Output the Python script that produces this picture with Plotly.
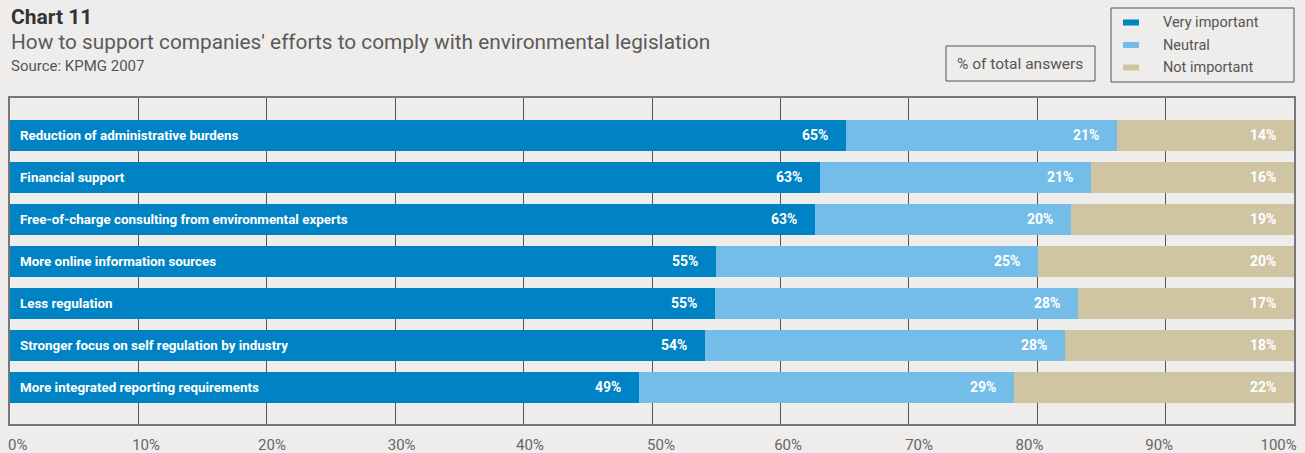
import plotly.graph_objects as go

# ---- data ----
categories = [
    "Reduction of administrative burdens",
    "Financial support",
    "Free-of-charge consulting from environmental experts",
    "More online information sources",
    "Less regulation",
    "Stronger focus on self regulation by industry",
    "More integrated reporting requirements",
]
very_important = [65.1, 63.1, 62.7, 55.0, 54.9, 54.1, 49.0]
neutral = [21.1, 21.1, 19.9, 25.1, 28.3, 28.1, 29.2]
not_important = [13.8, 15.8, 17.4, 19.9, 16.8, 17.8, 21.8]
very_labels = ["65%", "63%", "63%", "55%", "55%", "54%", "49%"]
neutral_labels = ["21%", "21%", "20%", "25%", "28%", "28%", "29%"]
not_labels = ["14%", "16%", "19%", "20%", "17%", "18%", "22%"]
series_names = ["Very important", "Neutral", "Not important"]
tick_values = list(range(0, 101, 10))
tick_labels = [f"{v}%" for v in tick_values]
# label placement offsets (in axis units) as in the original layout
tick_label_shift = [0.6, 0.6, 0.4, 0.5, 0.5, 0.7, 0.6, 0.8, -0.6, -0.5, -1.2]

# ---- style ----
BG = "#eeedeb"
C_DARK = "#0083c4"
C_LIGHT = "#74bde9"
C_TAN = "#cfc5a3"
colors = [C_DARK, C_LIGHT, C_TAN]
FONT = "Roboto"

W, H = 1305, 453
ML, MR, MT, MB = 10, 11, 98, 29
PW, PH = W - ML - MR, H - MT - MB


def px(x):
    return (x - ML) / PW


def py(y):
    return (H - MB - y) / PH


fig = go.Figure()
for name, vals, col in zip(series_names, [very_important, neutral, not_important], colors):
    fig.add_trace(go.Bar(
        y=categories, x=vals, name=name, orientation="h",
        marker=dict(color=col, line=dict(width=0)),
        showlegend=False, hoverinfo="x+y+name",
    ))
# invisible trace to carry the tick-label axis
fig.add_trace(go.Scatter(x=[0, 100], y=[categories[0], categories[0]], xaxis="x2",
                         mode="markers", marker=dict(opacity=0), showlegend=False,
                         hoverinfo="skip"))

annotations = []
for c in categories:
    annotations.append(dict(
        x=0, y=c, xref="x", yref="y", text=f"<b>{c}</b>", showarrow=False,
        xanchor="left", xshift=8, font=dict(family=FONT, size=13.4, color="white"),
    ))
cum1 = very_important
cum2 = [a + b for a, b in zip(very_important, neutral)]
cum3 = [a + b + c for a, b, c in zip(very_important, neutral, not_important)]
for ends, lbls in zip([cum1, cum2, cum3], [very_labels, neutral_labels, not_labels]):
    for c, e, t in zip(categories, ends, lbls):
        annotations.append(dict(
            x=min(e, 100), y=c, xref="x", yref="y", text=f"<b>{t}</b>", showarrow=False,
            xanchor="right", xshift=-16, font=dict(family=FONT, size=14, color="white"),
        ))

annotations += [
    dict(x=px(9), y=py(17), xref="paper", yref="paper", text="<b>Chart 11</b>",
         showarrow=False, xanchor="left", yanchor="middle",
         font=dict(family=FONT, size=21, color="#333333")),
    dict(x=px(9), y=py(42), xref="paper", yref="paper",
         text="How to support companies' efforts to comply with environmental legislation",
         showarrow=False, xanchor="left", yanchor="middle",
         font=dict(family=FONT, size=20.8, color="#5a5a5a")),
    dict(x=px(9), y=py(66), xref="paper", yref="paper",
         text="Source: KPMG 2007",
         showarrow=False, xanchor="left", yanchor="middle",
         font=dict(family=FONT, size=15, color="#555555")),
    dict(x=px(1020), y=py(64), xref="paper", yref="paper", text="% of total answers",
         showarrow=False, xanchor="center", yanchor="middle",
         font=dict(family=FONT, size=15.5, color="#555555")),
]

shapes = [
    dict(type="rect", xref="paper", yref="paper", x0=px(946), x1=px(1095), y0=py(46), y1=py(81),
         line=dict(color="#555555", width=1), fillcolor="rgba(0,0,0,0)"),
    dict(type="rect", xref="paper", yref="paper", x0=px(1111), x1=px(1294), y0=py(8), y1=py(82),
         line=dict(color="#555555", width=1), fillcolor="rgba(0,0,0,0)"),
]
for i, (name, col) in enumerate(zip(series_names, colors)):
    yc = 22.5 + i * 22.5
    shapes.append(dict(type="rect", xref="paper", yref="paper", x0=px(1123), x1=px(1139),
                       y0=py(yc - 3), y1=py(yc + 3), line=dict(width=0), fillcolor=col))
    annotations.append(dict(x=px(1161), y=py(yc), xref="paper", yref="paper", text=name,
                            showarrow=False, xanchor="left", yanchor="middle",
                            font=dict(family=FONT, size=14.5, color="#555555")))

fig.update_layout(
    width=W, height=H,
    margin=dict(l=ML, r=MR, t=MT, b=MB, autoexpand=False),
    paper_bgcolor=BG, plot_bgcolor=BG,
    barmode="stack", bargap=0.262,
    annotations=annotations, shapes=shapes,
    font=dict(family=FONT),
    xaxis=dict(
        range=[0, 100], tickvals=tick_values, showticklabels=False,
        showgrid=True, gridcolor="#555555", gridwidth=1,
        zeroline=False, showline=True, mirror=True, linecolor="#777777", linewidth=1.5,
        ticks="", automargin=False, fixedrange=True,
    ),
    xaxis2=dict(
        overlaying="x", side="bottom", anchor="y", range=[0, 100],
        tickvals=[v + s for v, s in zip(tick_values, tick_label_shift)], ticktext=tick_labels,
        showgrid=False, zeroline=False, showline=False,
        ticks="outside", ticklen=7, tickcolor="rgba(0,0,0,0)",
        tickfont=dict(family=FONT, size=15, color="#666666"),
        ticklabeloverflow="allow", automargin=False, fixedrange=True,
    ),
    yaxis=dict(
        categoryorder="array", categoryarray=categories,
        range=[6.88, -0.89], showticklabels=False, showgrid=False, zeroline=False,
        showline=True, mirror=True, linecolor="#777777", linewidth=1.5, ticks="",
        fixedrange=True, automargin=False,
    ),
)

fig.write_html("out.html")
